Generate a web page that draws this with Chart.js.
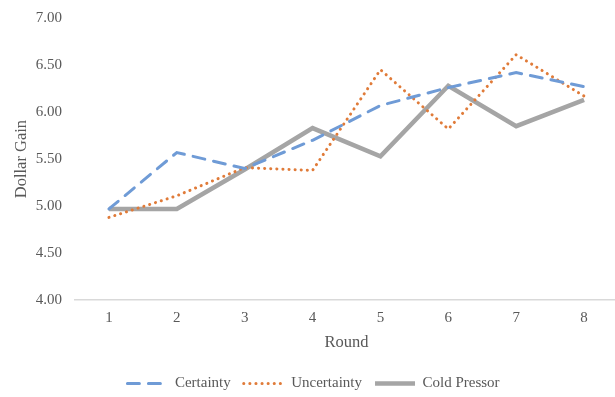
<!DOCTYPE html>
<html>
<head>
<meta charset="utf-8">
<script src="https://cdn.jsdelivr.net/npm/chart.js@4"></script>
<style>
  html, body { margin: 0; padding: 0; overflow: hidden; background: #fff; }
  #wrap { width: 618px; height: 397px; }
</style>
</head>
<body>
<div id="wrap"><canvas id="roundChart"></canvas></div>
<script>
var rounds = ['1', '2', '3', '4', '5', '6', '7', '8'];
var certainty = [4.97, 5.57, 5.40, 5.70, 6.07, 6.26, 6.42, 6.27];
var uncertainty = [4.88, 5.11, 5.41, 5.38, 6.45, 5.82, 6.61, 6.17];
var coldPressor = [4.97, 4.97, 5.39, 5.83, 5.53, 6.28, 5.85, 6.13];

var textColor = '#595959';
var serif = "'Liberation Serif', 'Times New Roman', serif";

var ctx = document.getElementById('roundChart').getContext('2d');
var chart = new Chart(ctx, {
    type: 'line',
    data: {
        labels: rounds,
        datasets: [{
            label: 'Certainty',
            data: certainty,
            borderColor: '#6f9bd6',
            borderWidth: 3,
            borderDash: [12, 9],
            borderCapStyle: 'round',
            pointRadius: 0,
            tension: 0
        }, {
            label: 'Uncertainty',
            data: uncertainty,
            borderColor: '#e07b39',
            borderWidth: 3,
            borderDash: [0.1, 6],
            borderCapStyle: 'round',
            pointRadius: 0,
            tension: 0
        }, {
            label: 'Cold Pressor',
            data: coldPressor,
            borderColor: '#a5a5a5',
            borderWidth: 4.5,
            pointRadius: 0,
            tension: 0
        }]
    },
    options: {
        responsive: true,
        maintainAspectRatio: false,
        animation: false,
        layout: { padding: { top: 18, right: 0, bottom: -4, left: 9 } },
        plugins: {
            tooltip: { enabled: false },
            legend: {
                position: 'bottom',
                labels: {
                    color: textColor,
                    font: { family: serif, size: 15 },
                    usePointStyle: true,
                    pointStyle: 'line',
                    pointStyleWidth: 40,
                    boxHeight: 8,
                    padding: 13,
                    generateLabels: function(c) {
                        var items = Chart.defaults.plugins.legend.labels.generateLabels(c);
                        items.forEach(function(item) {
                            var ds = c.data.datasets[item.datasetIndex];
                            item.lineDash = ds.borderDash || [];
                            item.lineCap = ds.borderCapStyle || 'butt';
                        });
                        return items;
                    }
                }
            }
        },
        scales: {
            x: {
                offset: true,
                grid: { display: false },
                border: { display: true, color: '#d9d9d9', width: 1.5 },
                ticks: { color: textColor, font: { family: serif, size: 15 }, padding: 1 },
                title: { display: true, text: 'Round', color: textColor, font: { family: serif, size: 16.5 }, padding: { top: 5, bottom: 10 } }
            },
            y: {
                min: 4,
                max: 7,
                grid: { display: false },
                border: { display: false },
                ticks: {
                    stepSize: 0.5,
                    color: textColor,
                    font: { family: serif, size: 15 },
                    padding: 5,
                    callback: function(v) { return Number(v).toFixed(2); }
                },
                title: { display: true, text: 'Dollar Gain', color: textColor, font: { family: serif, size: 16.5 }, padding: 3 },
                afterFit: function(scale) { scale.width = 66; }
            }
        }
    }
});
</script>
</body>
</html>
